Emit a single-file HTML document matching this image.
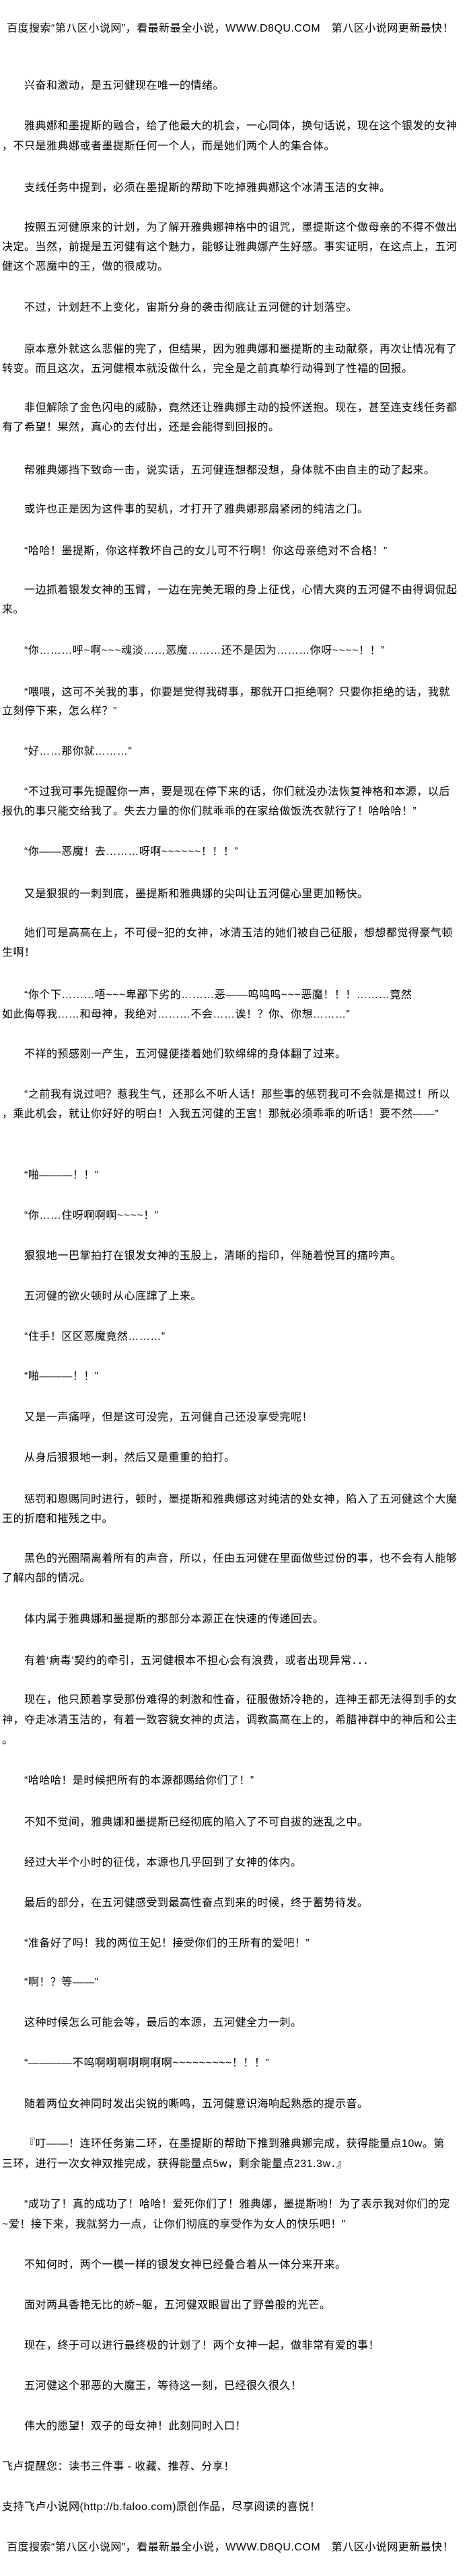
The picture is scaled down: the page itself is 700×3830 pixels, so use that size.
<!DOCTYPE html>
<html><head><meta charset="utf-8">
<style>
html,body{margin:0;padding:0;background:#fff;}
body{width:700px;height:3830px;position:relative;overflow:hidden;font-family:"Liberation Sans","WenQuanYi Zen Hei","Noto Sans CJK SC",sans-serif;font-size:16px;color:#000;letter-spacing:0.5px;}
div{position:absolute;left:36px;white-space:nowrap;line-height:20px;height:20px;}
.w{left:3px;}
.t{left:10px;}
</style></head><body>
<div class="t" style="top:33px">百度搜索“第八区小说网”，看最新最全小说，WWW.D8QU.COM　第八区小说网更新最快！</div>
<div style="top:118px">兴奋和激动，是五河健现在唯一的情绪。</div>
<div style="top:178px">雅典娜和墨提斯的融合，给了他最大的机会，一心同体，换句话说，现在这个银发的女神</div>
<div class="w" style="top:208px">，不只是雅典娜或者墨提斯任何一个人，而是她们两个人的集合体。</div>
<div style="top:270px">支线任务中提到，必须在墨提斯的帮助下吃掉雅典娜这个冰清玉洁的女神。</div>
<div style="top:329px">按照五河健原来的计划，为了解开雅典娜神格中的诅咒，墨提斯这个做母亲的不得不做出</div>
<div class="w" style="top:358px">决定。当然，前提是五河健有这个魅力，能够让雅典娜产生好感。事实证明，在这点上，五河</div>
<div class="w" style="top:387px">健这个恶魔中的王，做的很成功。</div>
<div style="top:448px">不过，计划赶不上变化，宙斯分身的袭击彻底让五河健的计划落空。</div>
<div style="top:510px">原本意外就这么悲催的完了，但结果，因为雅典娜和墨提斯的主动献祭，再次让情况有了</div>
<div class="w" style="top:539px">转变。而且这次，五河健根本就没做什么，完全是之前真挚行动得到了性福的回报。</div>
<div style="top:597px">非但解除了金色闪电的威胁，竟然还让雅典娜主动的投怀送抱。现在，甚至连支线任务都</div>
<div class="w" style="top:626px">有了希望！果然，真心的去付出，还是会能得到回报的。</div>
<div style="top:690px">帮雅典娜挡下致命一击，说实话，五河健连想都没想，身体就不由自主的动了起来。</div>
<div style="top:748px">或许也正是因为这件事的契机，才打开了雅典娜那扇紧闭的纯洁之门。</div>
<div style="top:810px">“哈哈！墨提斯，你这样教坏自己的女儿可不行啊！你这母亲绝对不合格！”</div>
<div style="top:868px">一边抓着银发女神的玉臂，一边在完美无瑕的身上征伐，心情大爽的五河健不由得调侃起</div>
<div class="w" style="top:897px">来。</div>
<div style="top:958px">“你………呼~啊~~~魂淡……恶魔………还不是因为………你呀~~~~！！”</div>
<div style="top:1020px">“喂喂，这可不关我的事，你要是觉得我碍事，那就开口拒绝啊？只要你拒绝的话，我就</div>
<div class="w" style="top:1048px">立刻停下来，怎么样？”</div>
<div style="top:1108px">“好……那你就………”</div>
<div style="top:1168px">“不过我可事先提醒你一声，要是现在停下来的话，你们就没办法恢复神格和本源，以后</div>
<div class="w" style="top:1197px">报仇的事只能交给我了。失去力量的你们就乖乖的在家给做饭洗衣就行了！哈哈哈！”</div>
<div style="top:1257px">“你——恶魔！去………呀啊~~~~~~！！！”</div>
<div style="top:1320px">又是狠狠的一刺到底，墨提斯和雅典娜的尖叫让五河健心里更加畅快。</div>
<div style="top:1378px">她们可是高高在上，不可侵~犯的女神，冰清玉洁的她们被自己征服，想想都觉得豪气顿</div>
<div class="w" style="top:1407px">生啊！</div>
<div style="top:1470px">“你个下………唔~~~卑鄙下劣的………恶——呜呜呜~~~恶魔！！！………竟然</div>
<div class="w" style="top:1499px">如此侮辱我……和母神，我绝对………不会……诶！？你、你想………”</div>
<div style="top:1558px">不祥的预感刚一产生，五河健便搂着她们软绵绵的身体翻了过来。</div>
<div style="top:1618px">“之前我有说过吧？惹我生气，还那么不听人话！那些事的惩罚我可不会就是揭过！所以</div>
<div class="w" style="top:1647px">，乘此机会，就让你好好的明白！入我五河健的王宫！那就必须乖乖的听话！要不然——”</div>
<div style="top:1738px">“啪———！！”</div>
<div style="top:1798px">“你……住呀啊啊啊~~~~！”</div>
<div style="top:1858px">狠狠地一巴掌拍打在银发女神的玉股上，清晰的指印，伴随着悦耳的痛吟声。</div>
<div style="top:1918px">五河健的欲火顿时从心底蹿了上来。</div>
<div style="top:1978px">“住手！区区恶魔竟然………”</div>
<div style="top:2037px">“啪———！！”</div>
<div style="top:2098px">又是一声痛呼，但是这可没完，五河健自己还没享受完呢！</div>
<div style="top:2158px">从身后狠狠地一刺，然后又是重重的拍打。</div>
<div style="top:2220px">惩罚和恩赐同时进行，顿时，墨提斯和雅典娜这对纯洁的处女神，陷入了五河健这个大魔</div>
<div class="w" style="top:2249px">王的折磨和摧残之中。</div>
<div style="top:2308px">黑色的光圈隔离着所有的声音，所以，任由五河健在里面做些过份的事，也不会有人能够</div>
<div class="w" style="top:2337px">了解内部的情况。</div>
<div style="top:2398px">体内属于雅典娜和墨提斯的那部分本源正在快速的传递回去。</div>
<div style="top:2460px">有着‘病毒’契约的牵引，五河健根本不担心会有浪费，或者出现异常．．．</div>
<div style="top:2518px">现在，他只顾着享受那份难得的刺激和性奋，征服傲娇冷艳的，连神王都无法得到手的女</div>
<div class="w" style="top:2548px">神，夺走冰清玉洁的，有着一致容貌女神的贞洁，调教高高在上的，希腊神群中的神后和公主</div>
<div class="w" style="top:2578px">。</div>
<div style="top:2638px">“哈哈哈！是时候把所有的本源都赐给你们了！”</div>
<div style="top:2700px">不知不觉间，雅典娜和墨提斯已经彻底的陷入了不可自拔的迷乱之中。</div>
<div style="top:2760px">经过大半个小时的征伐，本源也几乎回到了女神的体内。</div>
<div style="top:2820px">最后的部分，在五河健感受到最高性奋点到来的时候，终于蓄势待发。</div>
<div style="top:2880px">“准备好了吗！我的两位王妃！接受你们的王所有的爱吧！”</div>
<div style="top:2938px">“啊！？等——”</div>
<div style="top:2998px">这种时候怎么可能会等，最后的本源，五河健全力一刺。</div>
<div style="top:3058px">“————不呜啊啊啊啊啊啊啊~~~~~~~~~！！！”</div>
<div style="top:3119px">随着两位女神同时发出尖锐的嘶鸣，五河健意识海响起熟悉的提示音。</div>
<div style="top:3178px">『叮——！连环任务第二环，在墨提斯的帮助下推到雅典娜完成，获得能量点10w。第</div>
<div class="w" style="top:3208px">三环，进行一次女神双推完成，获得能量点5w，剩余能量点231.3w．』</div>
<div style="top:3268px">“成功了！真的成功了！哈哈！爱死你们了！雅典娜，墨提斯哟！为了表示我对你们的宠</div>
<div class="w" style="top:3298px">~爱！接下来，我就努力一点，让你们彻底的享受作为女人的快乐吧！”</div>
<div style="top:3358px">不知何时，两个一模一样的银发女神已经叠合着从一体分来开来。</div>
<div style="top:3418px">面对两具香艳无比的娇~躯，五河健双眼冒出了野兽般的光芒。</div>
<div style="top:3478px">现在，终于可以进行最终极的计划了！两个女神一起，做非常有爱的事！</div>
<div style="top:3538px">五河健这个邪恶的大魔王，等待这一刻，已经很久很久！</div>
<div style="top:3598px">伟大的愿望！双子的母女神！此刻同时入口！</div>
<div class="w" style="top:3658px">飞卢提醒您：读书三件事 - 收藏、推荐、分享！</div>
<div class="w" style="top:3718px">支持飞卢小说网(http://b.faloo.com)原创作品，尽享阅读的喜悦！</div>
<div class="t" style="top:3778px">百度搜索“第八区小说网”，看最新最全小说，WWW.D8QU.COM　第八区小说网更新最快！</div>
</body></html>
